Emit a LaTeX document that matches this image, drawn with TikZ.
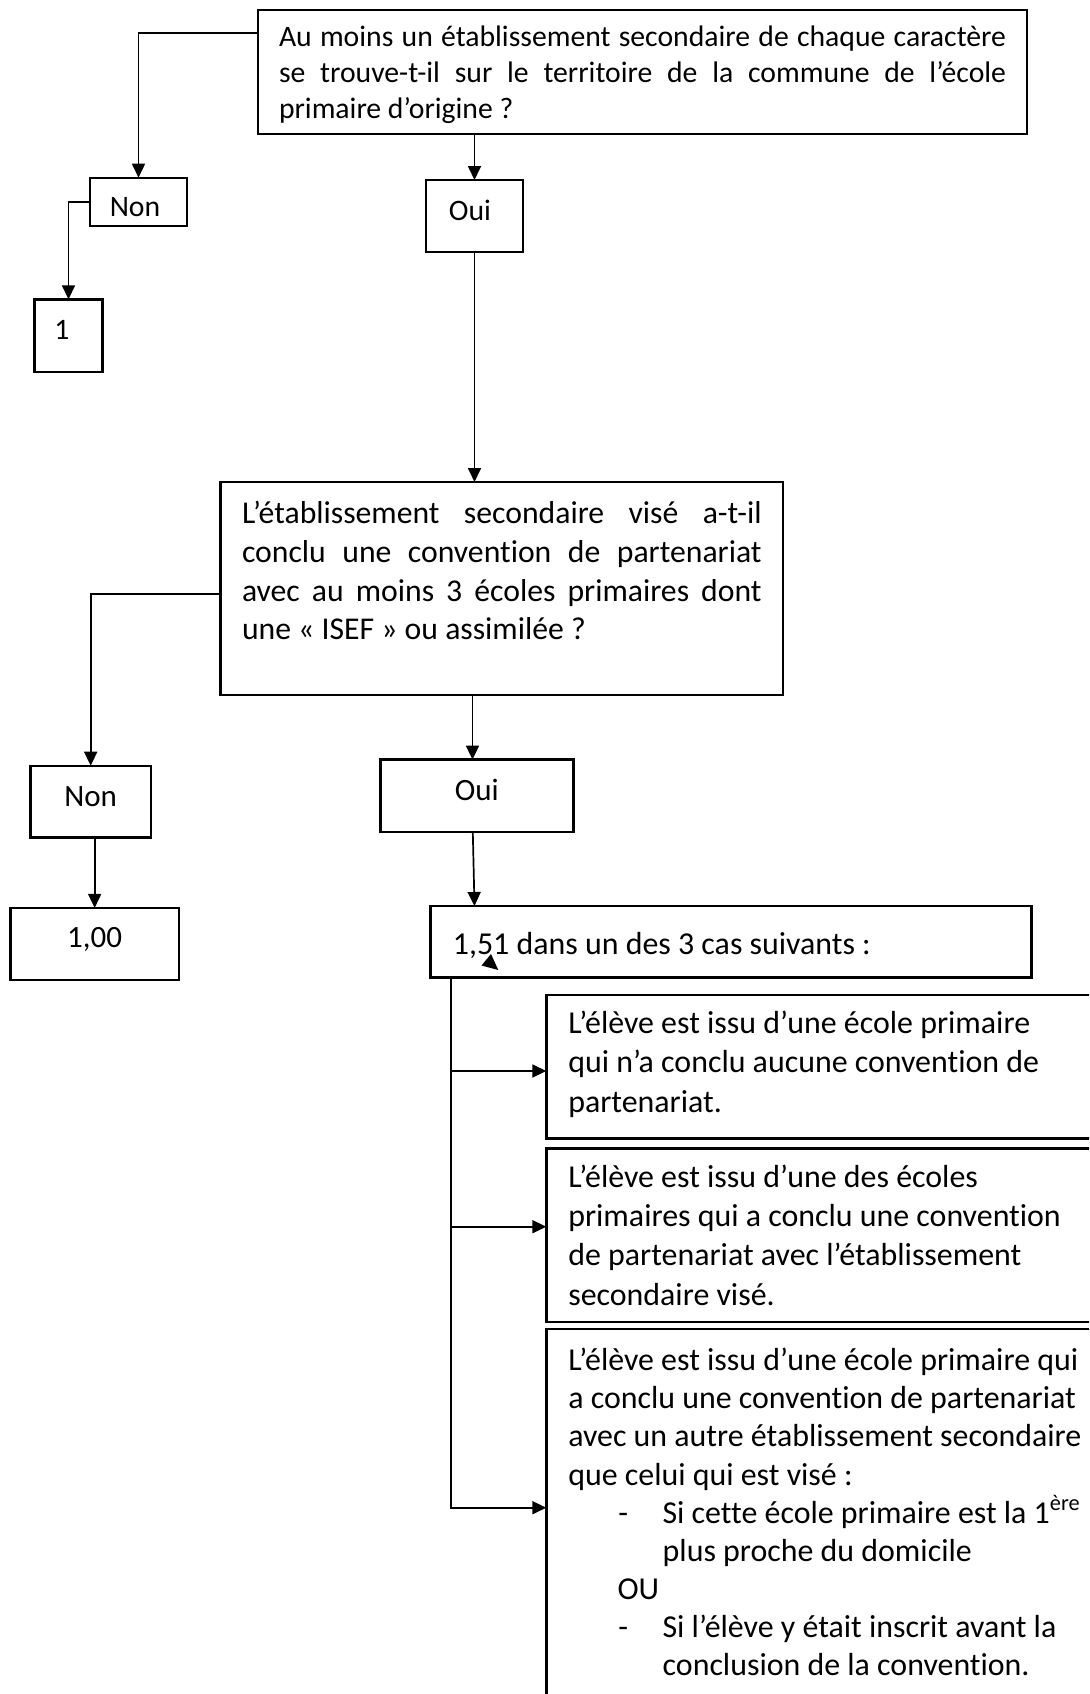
\documentclass[tikz,border=0pt]{standalone}
\usepackage{fontspec}
\setmainfont{Carlito}[Ligatures=NoCommon]
\usetikzlibrary{arrows.meta,calc}
\newdimen\pxu \pxu=0.5pt
\newcommand\natsp{\spaceskip=0pt\xspaceskip=0pt\relax}
\tikzset{
  box/.style={draw, line width=1.2pt, inner sep=0pt, outer sep=0pt, anchor=north west},
  tbox/.style={box, align=left},
  arr/.style={line width=0.85pt, -{Triangle[length=7pt,width=6.5pt]}},
  fA/.style={font=\fontsize{14.85}{18}\selectfont},
  fB/.style={font=\fontsize{15.85}{19.45}\selectfont},
  fC/.style={font=\fontsize{15.5}{19}\selectfont},
  fD/.style={font=\fontsize{15.95}{19.75}\selectfont},
  fE/.style={font=\fontsize{15.95}{19.65}\selectfont},
  fF/.style={font=\fontsize{15.95}{19.05}\selectfont},
}
\begin{document}
\begin{tikzpicture}[x=0.5pt,y=-0.5pt]
\useasboundingbox (0,0) rectangle (1089,1694);
\fill[white] (0,0) rectangle (1089,1694);
\clip (0,0) rectangle (1089,1694);

% top question
\node[tbox, fA, inner xsep=21\pxu, text width=727\pxu] (top) at (258,10)
 {\natsp\rule{0pt}{36.7\pxu}\makebox[\linewidth][s]{Au moins un établissement secondaire de chaque caractère}\\
  \makebox[\linewidth][s]{se trouve-t-il sur le territoire de la commune de l’école}\\
  primaire d’origine~?\rule[-15.3\pxu]{0pt}{15.3\pxu}};

\node[box, fA, minimum width=97\pxu] (non1) at (90,177.7)
 {\rule[-10\pxu]{0pt}{48.3\pxu}Non\hspace*{7\pxu}};
\node[box, fA, minimum width=97\pxu] (oui1) at (426,180)
 {\rule[-31.7\pxu]{0pt}{71.7\pxu}Oui\hspace*{9\pxu}};
\node[box, fA, minimum width=68.2\pxu] (one) at (34.4,299.3)
 {\rule[-32.4\pxu]{0pt}{72.4\pxu}1\hspace*{13\pxu}};

% second question
\node[tbox, fB, inner xsep=21.6\pxu, text width=519.6\pxu] (dec) at (220.4,482)
 {\natsp\rule{0pt}{41.2\pxu}\makebox[\linewidth][s]{L’établissement secondaire visé a-t-il}\\
  \makebox[\linewidth][s]{conclu une convention de partenariat}\\
  \makebox[\linewidth][s]{avec au moins 3 écoles primaires dont}\\
  une «~ISEF~» ou assimilée~?\rule[-55\pxu]{0pt}{55\pxu}};

\node[box, fC, minimum width=120.2\pxu] (non2) at (30.6,765.7)
 {\rule[-30.7\pxu]{0pt}{71.8\pxu}Non};
\node[box, fC, minimum width=192.8\pxu] (oui2) at (380.5,759.6)
 {\rule[-31.1\pxu]{0pt}{72.2\pxu}Oui};
\node[box, fC, minimum width=168.7\pxu] (cent) at (10.3,907.9)
 {\rule[-32.1\pxu]{0pt}{72.1\pxu}1,00};

\node[tbox, fD, inner xsep=22.5\pxu, text width=556\pxu] (b151) at (430.4,906)
 {\natsp\rule[-22.7\pxu]{0pt}{71.5\pxu}1,51 dans un des 3 cas suivants~:};

% stray arrowhead inside the box
\fill (491,954) -- (481.5,965.5) -- (498.3,970) -- cycle;

% cases
\node[tbox, fD, inner xsep=22\pxu, text width=560\pxu] (case1) at (546.3,994.7)
 {\natsp\rule{0pt}{38.6\pxu}L’élève est issu d’une école primaire\\
  qui n’a conclu aucune convention de\\
  partenariat.\rule[-26\pxu]{0pt}{26\pxu}};

\node[tbox, fE, inner xsep=22\pxu, text width=560\pxu] (case2) at (546.3,1148.3)
 {\natsp\rule{0pt}{39\pxu}L’élève est issu d’une des écoles\\
  primaires qui a conclu une convention\\
  de partenariat avec l’établissement\\
  secondaire visé.\rule[-16.5\pxu]{0pt}{16.5\pxu}};

\node[tbox, fF, inner xsep=22\pxu, text width=560\pxu] (case3) at (546.3,1329)
 {\natsp\rule{0pt}{41.7\pxu}L’élève est issu d’une école primaire qui\\
  a conclu une convention de partenariat\\
  avec un autre établissement secondaire\\
  que celui qui est visé~:\\
  \hspace*{50\pxu}\makebox[44.3\pxu][l]{-}Si cette école primaire est la 1\textsuperscript{ère}\\
  \hspace*{94.4\pxu}plus proche du domicile\\
  \hspace*{49.2\pxu}OU\\
  \hspace*{50\pxu}\makebox[44.3\pxu][l]{-}Si l’élève y était inscrit avant la\\
  \hspace*{94.4\pxu}conclusion de la convention.\rule[-50\pxu]{0pt}{50\pxu}};

% connectors
\draw[arr] ([yshift=-23.3\pxu]top.north west) -| (non1.north);
\draw[arr] (non1.west) -| (one.north);
\draw[arr] (oui1.north |- top.south) -- (oui1.north);
\draw[arr] (oui1.south) -- (oui1.south |- dec.north);
\draw[arr] ([yshift=-112.3\pxu]dec.north west) -| (non2.north);
\draw[arr] ([xshift=-4.4\pxu]oui2.north |- dec.south) -- ([xshift=-4.4\pxu]oui2.north);
\draw[arr] (cent.north |- non2.south) -- (cent.north);
\draw[arr] ([xshift=-4.1\pxu]oui2.south) -- ([xshift=-2.4\pxu]oui2.south |- b151.north);

\coordinate (t0) at ([xshift=20.6\pxu]b151.south west);
\coordinate (j1) at (451,1071);
\coordinate (j2) at (451,1226.7);
\coordinate (j3) at (451,1507.7);
\draw[arr] (t0) |- (j3 -| case3.west);
\draw[arr] (j1) -- (j1 -| case1.west);
\draw[arr] (j2) -- (j2 -| case2.west);
\end{tikzpicture}
\end{document}
